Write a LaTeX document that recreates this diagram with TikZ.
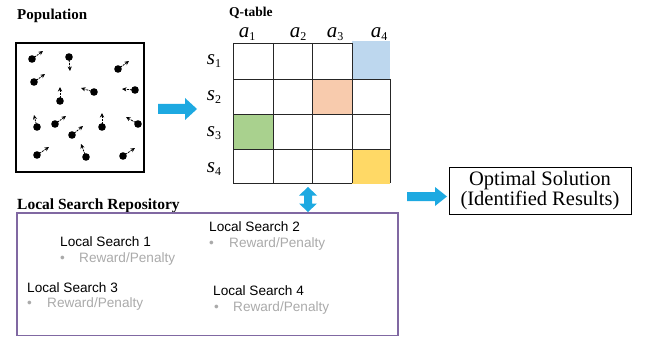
\documentclass[tikz,border=0pt]{standalone}
\usepackage{fontspec}
\setmainfont{Liberation Serif}
\setsansfont{Liberation Sans}
\usetikzlibrary{arrows.meta}
\definecolor{qblue}{HTML}{BDD7EE}
\definecolor{qpeach}{HTML}{F8CBAD}
\definecolor{qgreen}{HTML}{A9D18E}
\definecolor{qyellow}{HTML}{FFD966}
\definecolor{arrowblue}{HTML}{1DA9E1}
\definecolor{repo}{HTML}{8068A2}
\definecolor{grayt}{HTML}{AAAAAA}
\newcommand{\qlab}[2]{{\fontsize{21}{21}\selectfont\itshape #1}\raisebox{-3.5pt}{\fontsize{12}{12}\selectfont #2}}
\tikzset{
  heading/.style={anchor=west, inner sep=0pt, font=\bfseries\fontsize{15}{15}\selectfont},
  lsname/.style={anchor=west, inner sep=0pt, font=\sffamily\fontsize{13.6}{14}\selectfont},
  lsitem/.style={anchor=west, inner sep=0pt, text=grayt, font=\sffamily\fontsize{13.6}{14}\selectfont},
  particle/.style={dash pattern=on 2pt off 1pt, line width=0.8pt, -{Stealth[length=4.5pt,width=4.2pt]}},
  gridline/.style={line width=0.8pt, draw=black!85},
  blockarrow/.style={fill=arrowblue, draw=none},
  qlabel/.style={inner sep=0pt}
}
\begin{document}
\begin{tikzpicture}[x=1pt,y=-1pt]
\useasboundingbox (0,0) rectangle (657,337);

% Population
\node[heading] (poptitle) at (17,16) {Population};
\draw[line width=1.2pt] (16,43) rectangle (144,172);
\foreach \x/\y/\u/\v [count=\i] in {
  32/59/43/51, 69/57/70/71, 118/69/129/61, 34/82/45/74,
  60/101/60/87, 94/92/81/88, 135/90/122/89, 37/127/34/115,
  55/124/66/116, 72/135/83/126, 102/127/102/113, 138/124/126/117,
  37/155/49/147, 86/157/81/144, 123/156/135/148}{
  \coordinate (p\i) at (\x,\y);
  \coordinate (q\i) at (\u,\v);
  \draw[particle] (p\i) -- (q\i);
  \fill (p\i) circle (3.8);
}

% arrow population -> Q-table
\fill[blockarrow] (158,104) -- (185,104) -- (185,98) -- (197,109) -- (185,120) -- (185,114) -- (158,114) -- cycle;

% Q-table
\node[anchor=west, inner sep=0pt, font=\bfseries\fontsize{13.5}{14}\selectfont] (qtitle) at (229,13) {Q-table};
\fill[qblue] (352,41) rectangle (390,79);
\fill[qpeach] (312,79) rectangle (352,114);
\fill[qgreen] (233,114) rectangle (273,149);
\fill[qyellow] (352,149) rectangle (390,184);
\draw[gridline] (233,43) -- (352,43);
\foreach \y in {79,114,149} \draw[gridline] (233,\y) -- (390,\y);
\draw[gridline] (233,183) -- (352,183);
\foreach \x in {233,273,312,352} \draw[gridline] (\x,43) -- (\x,183);
\draw[gridline] (390,79) -- (390,183);
\coordinate (qbottom) at (308,183);

\node[qlabel] (a1) at (247,34) {\qlab{a}{1}};
\node[qlabel] (a2) at (298,34) {\qlab{a}{2}};
\node[qlabel] (a3) at (335,34) {\qlab{a}{3}};
\node[qlabel] (a4) at (379,34) {\qlab{a}{4}};
\node[qlabel] (s1) at (214,61) {\qlab{s}{1}};
\node[qlabel] (s2) at (214,97) {\qlab{s}{2}};
\node[qlabel] (s3) at (214,133) {\qlab{s}{3}};
\node[qlabel] (s4) at (214,169) {\qlab{s}{4}};

% Local search repository
\node[heading, font=\bfseries\fontsize{15.5}{15}\selectfont] (repotitle) at (17,206) {Local Search Repository};
\draw[repo, line width=1.3pt] (17,213) rectangle (398,335.5);
\coordinate (repotop) at (308,213);

% double arrow Q-table <-> repository
\fill[blockarrow] (308,187) -- (317,195.5) -- (312,195.5) -- (312,203.5) -- (317,203.5) -- (308,212)
  -- (299,203.5) -- (304,203.5) -- (304,195.5) -- (299,195.5) -- cycle;

\node[lsname] (ls1) at (60,242) {Local Search 1};
\node[lsitem] (b1) at (60,259) {•};
\node[lsitem] (r1) at (79,259) {Reward/Penalty};
\node[lsname] (ls2) at (209,227) {Local Search 2};
\node[lsitem] (b2) at (209,244) {•};
\node[lsitem] (r2) at (229,244) {Reward/Penalty};
\node[lsname] (ls3) at (27,288) {Local Search 3};
\node[lsitem] (b3) at (27,304) {•};
\node[lsitem] (r3) at (47,304) {Reward/Penalty};
\node[lsname] (ls4) at (213,291) {Local Search 4};
\node[lsitem] (b4) at (214,308) {•};
\node[lsitem] (r4) at (233,308) {Reward/Penalty};

% arrow -> optimal solution
\fill[blockarrow] (407,192) -- (435,192) -- (435,187) -- (447,196.5) -- (435,206) -- (435,201) -- (407,201) -- cycle;

\node[draw, line width=0.8pt, minimum width=182pt, minimum height=47pt, align=center, inner sep=0pt,
  font=\fontsize{20.5}{17.5}\selectfont] (opt) at (540,190.5) {Optimal Solution\\(Identified Results)};
\end{tikzpicture}
\end{document}
